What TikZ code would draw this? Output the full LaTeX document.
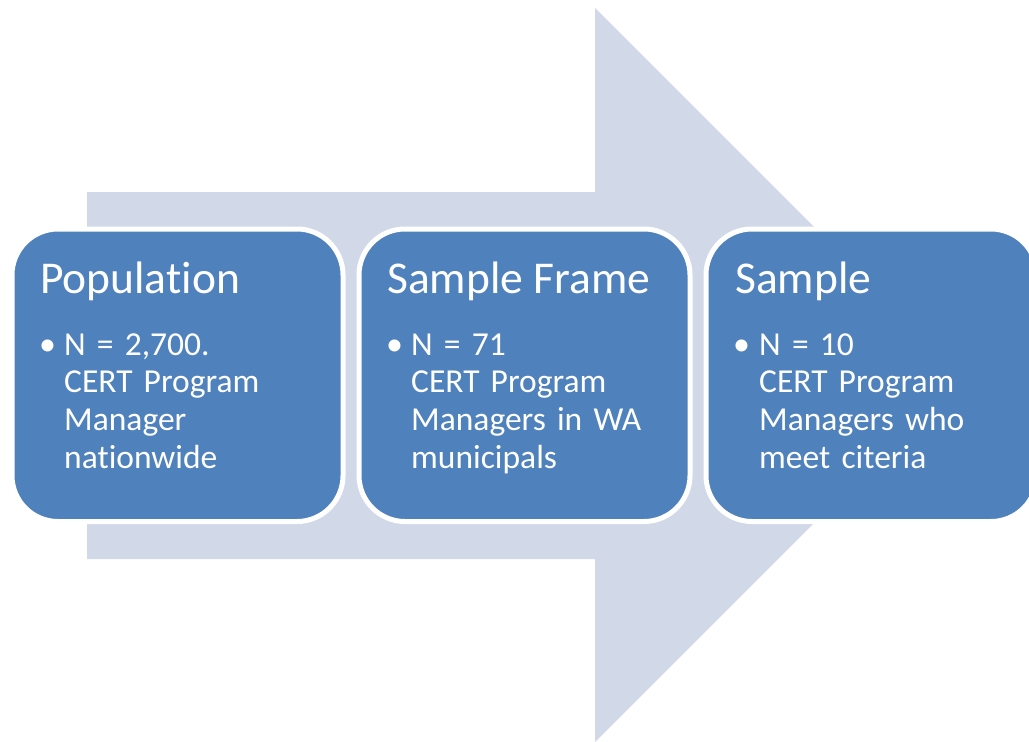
\documentclass[tikz,border=0pt]{standalone}
\usepackage{fontspec}
\setmainfont[Ligatures={NoCommon,NoRare,NoDiscretionary}]{Carlito}
\definecolor{stepblue}{HTML}{4F81BD}
\definecolor{arrowgray}{HTML}{D1D8E8}
\tikzset{
  stagebox/.style={fill=stepblue, draw=white, line width=5pt, rounded corners=46pt},
  stagetitle/.style={anchor=base west, inner sep=0pt, text=white, font=\fontsize{45.5}{52}\selectfont},
  stagebody/.style={anchor=base west, inner sep=0pt, text=white, text width=280pt, align=left,
                    font=\fontsize{33.5}{37.7}\selectfont},
  stagebullet/.style={anchor=base west, inner sep=0pt, text=white, font=\fontsize{34}{38}\selectfont},
}
\begin{document}
\begin{tikzpicture}[x=1pt, y=-1pt]
  \useasboundingbox (0,0) rectangle (1029,742);
  \clip (0,0) rectangle (1029,742);
  % broad background arrow
  \fill[arrowgray] (87,192) -- (595,192) -- (595,8) -- (962,375) -- (595,742)
    -- (595,559) -- (87,559) -- cycle;
  % three stages
  \foreach \name/\x in {pop/12, frame/359, samp/706} {
    \draw[stagebox] (\x,229) rectangle ++(331,292.5);
    \node[stagebullet] (\name-bul) at (\x+27,355.5) {•};
  }
  \node[stagetitle] (pop-title) at (40,293) {Population};
  \node[stagebody] (pop-body) at (64,355) {N = 2,700.\\CERT Program\\Manager\\nationwide};
  \node[stagetitle] (frame-title) at (387,293) {Sample Frame};
  \node[stagebody] (frame-body) at (411,355) {N = 71\\CERT Program\\Managers in WA\\municipals};
  \node[stagetitle] (samp-title) at (735,293) {Sample};
  \node[stagebody] (samp-body) at (759,355) {N = 10\\CERT Program\\Managers who\\meet citeria};
\end{tikzpicture}
\end{document}
